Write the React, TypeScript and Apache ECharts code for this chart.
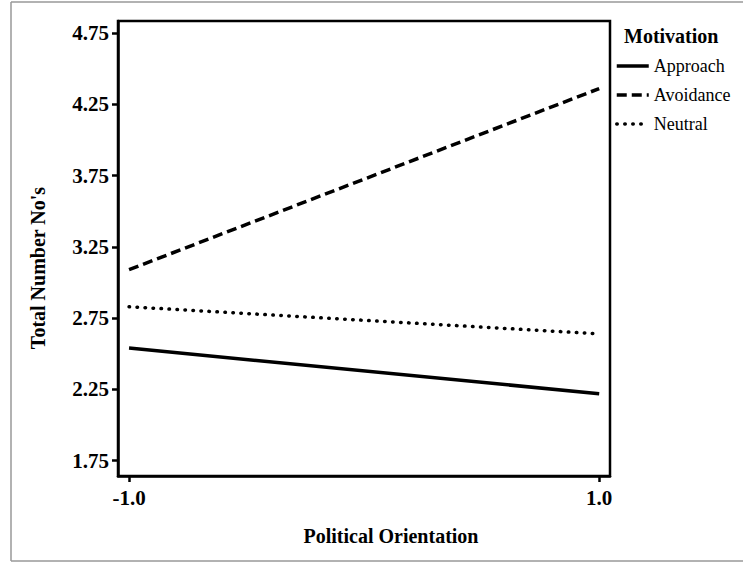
import React, { useEffect, useRef } from "react";
import * as echarts from "echarts";

const xValues = [-1, 1];
const approach = [2.54, 2.22];
const avoidance = [3.09, 4.36];
const neutral = [2.83, 2.64];
const yTicks = [1.75, 2.25, 2.75, 3.25, 3.75, 4.25, 4.75];
const xTicks = [-1, 1];
const seriesNames = ["Approach", "Avoidance", "Neutral"];

const SERIF = "'Liberation Serif', 'Times New Roman', serif";

export default function App() {
  const ref = useRef<HTMLDivElement>(null);
  useEffect(() => {
    if (!ref.current) return;
    const chart = echarts.init(ref.current, undefined, { renderer: "svg" });
    const pts = (ys: number[]) => xValues.map((x, i) => [x, ys[i]]);
    chart.setOption({
      animation: false,
      backgroundColor: "#fff",
      grid: {
        left: 118,
        top: 21,
        width: 492,
        height: 455,
        show: true,
        borderColor: "#000",
        borderWidth: 2.5,
      },
      xAxis: {
        type: "value",
        min: -1.047,
        max: 1.046,
        splitLine: { show: false },
        axisLine: { onZero: false, lineStyle: { color: "#000", width: 2.5 } },
        axisTick: {
          show: true,
          customValues: xTicks,
          length: 6,
          lineStyle: { color: "#000", width: 2.5 },
        },
        axisLabel: {
          customValues: xTicks,
          formatter: (v: number) => v.toFixed(1),
          margin: 11,
          fontFamily: SERIF,
          fontWeight: "bold",
          fontSize: 21,
          color: "#000",
        },
      },
      yAxis: {
        type: "value",
        min: 1.643,
        max: 4.834,
        splitLine: { show: false },
        axisLine: { onZero: false, lineStyle: { color: "#000", width: 2.5 } },
        axisTick: {
          show: true,
          customValues: yTicks,
          length: 6,
          lineStyle: { color: "#000", width: 2.5 },
        },
        axisLabel: {
          customValues: yTicks,
          formatter: (v: number) => v.toFixed(2),
          margin: 9,
          fontFamily: SERIF,
          fontWeight: "bold",
          fontSize: 21,
          color: "#000",
        },
      },
      legend: {
        orient: "vertical",
        left: 615,
        top: 57,
        padding: 0,
        itemWidth: 32,
        itemHeight: 14,
        itemGap: 11,
        data: seriesNames,
        itemStyle: { opacity: 0 },
        lineStyle: { width: 3.5 },
        textStyle: { fontFamily: SERIF, fontSize: 18, color: "#000" },
      },
      graphic: [
        {
          type: "line",
          shape: { x1: 11, y1: 2, x2: 11, y2: 561 },
          style: { stroke: "#999", lineWidth: 1.5 },
        },
        {
          type: "line",
          shape: { x1: 11, y1: 2, x2: 743, y2: 2 },
          style: { stroke: "#999", lineWidth: 1.5 },
        },
        {
          type: "line",
          shape: { x1: 11, y1: 561, x2: 743, y2: 561 },
          style: { stroke: "#999", lineWidth: 1.5 },
        },
        {
          type: "text",
          left: 624,
          top: 26,
          style: {
            text: "Motivation",
            fontFamily: SERIF,
            fontWeight: "bold",
            fontSize: 20,
            fill: "#000",
          },
        },
        {
          type: "text",
          x: 391,
          y: 536,
          style: {
            text: "Political Orientation",
            fontFamily: SERIF,
            fontWeight: "bold",
            fontSize: 20,
            fill: "#000",
            align: "center",
            verticalAlign: "middle",
          },
        },
        {
          type: "text",
          x: 38,
          y: 268,
          rotation: Math.PI / 2,
          style: {
            text: "Total Number No's",
            fontFamily: SERIF,
            fontWeight: "bold",
            fontSize: 20,
            fill: "#000",
            align: "center",
            verticalAlign: "middle",
          },
        },
      ],
      series: [
        {
          name: "Approach",
          type: "line",
          symbol: "none",
          data: pts(approach),
          lineStyle: { color: "#000", width: 3.5, type: "solid" },
          itemStyle: { color: "#000" },
        },
        {
          name: "Avoidance",
          type: "line",
          symbol: "none",
          data: pts(avoidance),
          lineStyle: { color: "#000", width: 3.5, type: [10, 5] },
          itemStyle: { color: "#000" },
        },
        {
          name: "Neutral",
          type: "line",
          symbol: "none",
          data: pts(neutral),
          lineStyle: { color: "#000", width: 3.5, type: [0.5, 7.5], cap: "round" },
          itemStyle: { color: "#000" },
        },
      ],
    });
    return () => chart.dispose();
  }, []);
  return (
    <div
      ref={ref}
      style={{ position: "fixed", left: 0, top: 0, width: 743, height: 562 }}
    />
  );
}
